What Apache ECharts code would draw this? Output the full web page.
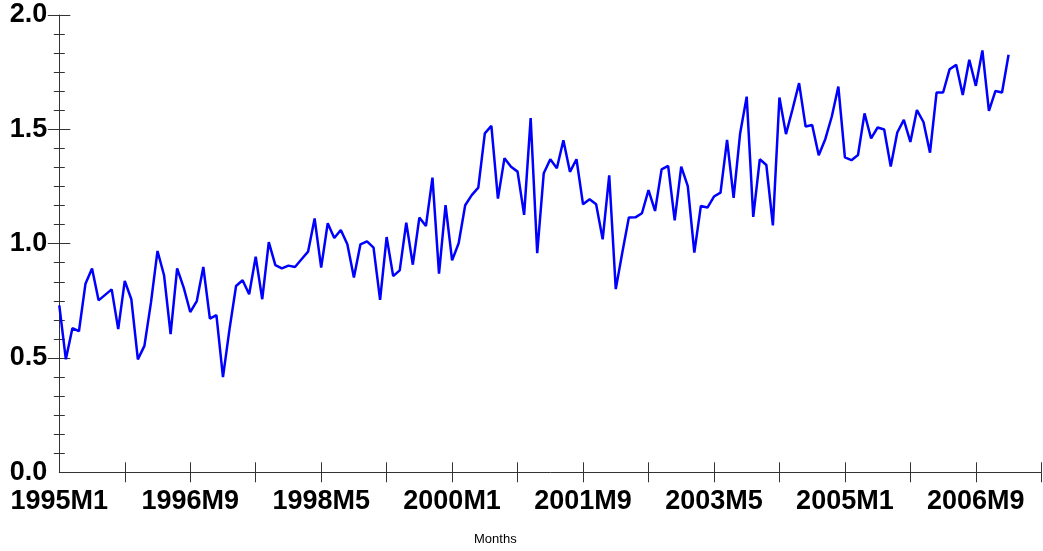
<!DOCTYPE html>
<html>
<head>
<meta charset="utf-8">
<script src="https://cdn.jsdelivr.net/npm/echarts@6/dist/echarts.min.js"></script>
<style>
html,body{margin:0;padding:0;background:#fff;}
#chart{width:1043px;height:551px;}
</style>
</head>
<body>
<div id="chart"></div>
<script>
// Monthly categories 1995M1 .. 2007M7 (axis runs a little past the last observation)
const startYear = 1995;
const nCategories = 151;
const categories = [];
for (let i = 0; i < nCategories; i++) {
  categories.push((startYear + Math.floor(i / 12)) + 'M' + (i % 12 + 1));
}
const tickLabels = ['1995M1','1996M9','1998M5','2000M1','2001M9','2003M5','2005M1','2006M9'];
const yTicks = [0.5, 1.0, 1.5, 2.0];

// Series values, 1995M1 .. 2007M2
const values = [
  0.730,0.494,0.630,0.617,0.825,0.891,0.752,0.776,0.800,0.626,0.837,0.757,
  0.494,0.553,0.742,0.968,0.862,0.604,0.892,0.808,0.701,0.749,0.898,0.672,
  0.687,0.416,0.626,0.815,0.840,0.779,0.943,0.757,1.007,0.906,0.892,0.904,
  0.898,0.932,0.965,1.110,0.895,1.089,1.025,1.060,0.997,0.852,0.997,1.010,
  0.983,0.754,1.029,0.858,0.883,1.092,0.908,1.114,1.077,1.289,0.869,1.168,
  0.927,1.002,1.168,1.212,1.245,1.482,1.515,1.197,1.374,1.336,1.315,1.126,
  1.549,0.958,1.308,1.369,1.330,1.452,1.314,1.369,1.172,1.194,1.172,1.019,
  1.299,0.801,0.961,1.114,1.115,1.133,1.234,1.143,1.325,1.340,1.102,1.337,
  1.252,0.961,1.165,1.158,1.206,1.223,1.454,1.200,1.483,1.643,1.117,1.369,
  1.344,1.080,1.639,1.479,1.588,1.702,1.512,1.519,1.387,1.457,1.556,1.687,
  1.377,1.365,1.388,1.570,1.460,1.508,1.499,1.337,1.486,1.541,1.445,1.584,
  1.532,1.398,1.661,1.661,1.763,1.782,1.650,1.804,1.690,1.845,1.581,1.668,
  1.661,1.826
];

const axisColor = '#333';
const labelFont = {fontFamily: '"Liberation Sans", Arial, sans-serif', fontWeight: 'bold', fontSize: 27, color: '#000'};
const tickShow = (idx) => idx > 0 && idx % 10 === 0;
const labelShow = (idx) => tickLabels.indexOf(categories[idx]) >= 0;

const chart = echarts.init(document.getElementById('chart'), null, {renderer: 'canvas'});
chart.setOption({
  animation: false,
  backgroundColor: '#fff',
  grid: {left: 59.3, right: 1.7, top: 15, bottom: 78.7, containLabel: false},
  xAxis: [
    {
      type: 'category', data: categories, boundaryGap: false, position: 'bottom',
      axisLine: {show: true, lineStyle: {color: axisColor, width: 1}},
      axisTick: {show: true, inside: false, length: 10, interval: tickShow, lineStyle: {color: axisColor, width: 1}},
      axisLabel: Object.assign({show: true, interval: labelShow, margin: 16}, labelFont),
      splitLine: {show: false}
    },
    {
      type: 'category', data: categories, boundaryGap: false, position: 'bottom', offset: 0,
      axisLine: {show: false},
      axisTick: {show: true, inside: true, length: 10, interval: tickShow, lineStyle: {color: axisColor, width: 1}},
      axisLabel: {show: false},
      splitLine: {show: false}
    }
  ],
  yAxis: [
    {
      type: 'value', min: 0, max: 2, interval: 0.5, position: 'left',
      axisLine: {show: true, lineStyle: {color: axisColor, width: 1}},
      axisTick: {show: true, inside: false, length: 11.5, customValues: yTicks, lineStyle: {color: axisColor, width: 1}},
      minorTick: {show: true, splitNumber: 6, length: 5.5, lineStyle: {color: axisColor, width: 1}},
      axisLabel: Object.assign({show: true, margin: 12, formatter: (v) => v.toFixed(1)}, labelFont),
      splitLine: {show: false},
      minorSplitLine: {show: false}
    },
    {
      type: 'value', min: 0, max: 2, interval: 0.5, position: 'left', offset: 0,
      axisLine: {show: false},
      axisTick: {show: true, inside: true, length: 11, customValues: yTicks, lineStyle: {color: axisColor, width: 1}},
      minorTick: {show: true, splitNumber: 6, length: 5.5, lineStyle: {color: axisColor, width: 1}},
      axisLabel: {show: false},
      splitLine: {show: false},
      minorSplitLine: {show: false}
    }
  ],
  graphic: [
    {
      type: 'text', left: 474, top: 533,
      style: {text: 'Months', font: '13px "Liberation Sans", Arial, sans-serif', fill: '#000'}
    }
  ],
  series: [
    {
      type: 'line', data: values, xAxisIndex: 0, yAxisIndex: 0,
      showSymbol: false, symbol: 'none',
      lineStyle: {color: '#0000ff', width: 2.5},
      itemStyle: {color: '#0000ff'}
    }
  ]
});
</script>
</body>
</html>
